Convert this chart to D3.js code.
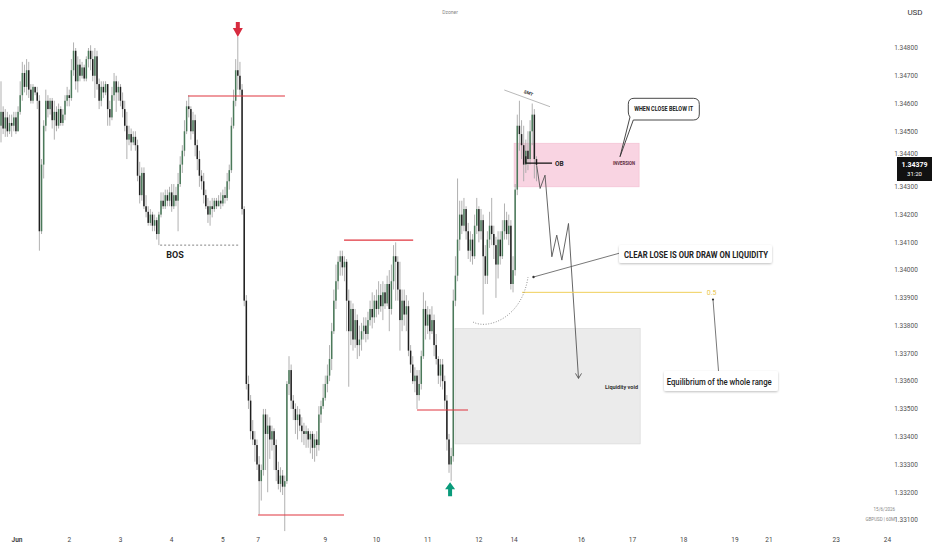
<!DOCTYPE html>
<html><head><meta charset="utf-8">
<script src="https://cdn.jsdelivr.net/npm/d3@7"></script>
<style>body{margin:0;background:#fff}svg{display:block}text{font-family:Roboto,"Noto Sans",sans-serif}</style>
</head><body><svg id="c" width="932" height="550"></svg>
<script>
// GBPUSD 60M candles: [open, high, low, close]
const ohlc = [
[1.3452,1.3468,1.3446,1.3457],[1.3457,1.3459,1.3449,1.3451],[1.3451,1.3458,1.3448,1.3455],[1.3455,1.3457,1.3448,1.3450],[1.3450,1.3456,1.3449,1.3453],[1.3453,1.3456,1.3448,1.3452],
[1.3452,1.3457,1.3450,1.3455],[1.3455,1.3457,1.3449,1.3450],[1.3450,1.3459,1.3450,1.3457],[1.3457,1.3468,1.3456,1.3463],[1.3463,1.3475,1.3461,1.3471],[1.3471,1.3474,1.3464,1.3466],
[1.3466,1.3476,1.3463,1.3472],[1.3472,1.3475,1.3462,1.3465],[1.3465,1.3467,1.3460,1.3461],[1.3461,1.3467,1.3460,1.3466],[1.3466,1.3466,1.3463,1.3464],[1.3464,1.3466,1.3458,1.3461],
[1.3461,1.3463,1.3407,1.3414],[1.3414,1.3440,1.3413,1.3438],[1.3438,1.3454,1.3433,1.3452],[1.3452,1.3465,1.3450,1.3461],[1.3461,1.3463,1.3455,1.3458],[1.3458,1.3462,1.3456,1.3461],
[1.3461,1.3462,1.3451,1.3454],[1.3454,1.3461,1.3447,1.3457],[1.3457,1.3459,1.3450,1.3452],[1.3452,1.3460,1.3451,1.3458],[1.3458,1.3459,1.3452,1.3453],[1.3453,1.3458,1.3452,1.3456],
[1.3456,1.3463,1.3454,1.3461],[1.3461,1.3466,1.3459,1.3463],[1.3463,1.3465,1.3459,1.3462],[1.3462,1.3476,1.3461,1.3472],[1.3472,1.3482,1.3470,1.3479],[1.3479,1.3480,1.3465,1.3468],
[1.3468,1.3477,1.3464,1.3474],[1.3474,1.3476,1.3468,1.3470],[1.3470,1.3475,1.3469,1.3473],[1.3473,1.3474,1.3468,1.3469],[1.3469,1.3477,1.3468,1.3476],[1.3476,1.3480,1.3473,1.3479],
[1.3479,1.3481,1.3472,1.3476],[1.3476,1.3479,1.3468,1.3470],[1.3470,1.3480,1.3462,1.3477],[1.3477,1.3479,1.3465,1.3467],[1.3467,1.3469,1.3458,1.3461],[1.3461,1.3468,1.3459,1.3466],
[1.3466,1.3468,1.3462,1.3464],[1.3464,1.3468,1.3463,1.3467],[1.3467,1.3467,1.3452,1.3458],[1.3458,1.3461,1.3452,1.3455],[1.3455,1.3466,1.3454,1.3463],[1.3463,1.3471,1.3461,1.3468],
[1.3468,1.3470,1.3457,1.3464],[1.3464,1.3468,1.3461,1.3466],[1.3466,1.3467,1.3459,1.3461],[1.3461,1.3464,1.3455,1.3458],[1.3458,1.3461,1.3450,1.3452],[1.3452,1.3457,1.3440,1.3447],
[1.3447,1.3452,1.3445,1.3449],[1.3449,1.3451,1.3443,1.3446],[1.3446,1.3450,1.3445,1.3448],[1.3448,1.3450,1.3443,1.3445],[1.3445,1.3447,1.3432,1.3434],[1.3434,1.3439,1.3424,1.3427],
[1.3427,1.3437,1.3425,1.3435],[1.3435,1.3437,1.3422,1.3423],[1.3423,1.3427,1.3419,1.3421],[1.3421,1.3423,1.3416,1.3417],[1.3417,1.3422,1.3416,1.3420],[1.3420,1.3421,1.3414,1.3416],
[1.3416,1.3420,1.3414,1.3418],[1.3418,1.3419,1.3411,1.3413],[1.3413,1.3421,1.3409,1.3420],[1.3420,1.3428,1.3419,1.3425],[1.3425,1.3428,1.3422,1.3423],[1.3423,1.3429,1.3422,1.3427],
[1.3427,1.3429,1.3423,1.3425],[1.3425,1.3430,1.3423,1.3428],[1.3428,1.3431,1.3421,1.3423],[1.3423,1.3431,1.3422,1.3427],[1.3427,1.3430,1.3423,1.3425],[1.3425,1.3435,1.3414,1.3431],
[1.3431,1.3441,1.3430,1.3438],[1.3438,1.3445,1.3435,1.3443],[1.3443,1.3454,1.3441,1.3450],[1.3450,1.3461,1.3449,1.3459],[1.3459,1.3463,1.3455,1.3458],[1.3458,1.3459,1.3447,1.3450],
[1.3450,1.3457,1.3449,1.3454],[1.3454,1.3456,1.3441,1.3445],[1.3445,1.3447,1.3436,1.3440],[1.3440,1.3443,1.3430,1.3434],[1.3434,1.3436,1.3429,1.3432],[1.3432,1.3435,1.3424,1.3427],
[1.3427,1.3429,1.3422,1.3423],[1.3423,1.3426,1.3417,1.3420],[1.3420,1.3425,1.3416,1.3423],[1.3423,1.3426,1.3419,1.3422],[1.3422,1.3426,1.3421,1.3425],[1.3425,1.3426,1.3422,1.3423],
[1.3423,1.3427,1.3423,1.3425],[1.3425,1.3428,1.3422,1.3424],[1.3424,1.3429,1.3423,1.3427],[1.3427,1.3430,1.3424,1.3426],[1.3426,1.3435,1.3425,1.3432],[1.3432,1.3438,1.3429,1.3436],
[1.3436,1.3455,1.3435,1.3452],[1.3452,1.3465,1.3451,1.3461],[1.3461,1.3476,1.3459,1.3472],[1.3472,1.3484,1.3465,1.3470],[1.3470,1.3475,1.3463,1.3465],[1.3465,1.3467,1.3420,1.3422],
[1.3422,1.3423,1.3387,1.3389],[1.3389,1.3391,1.3357,1.3359],[1.3359,1.3362,1.3350,1.3353],[1.3353,1.3355,1.3339,1.3342],[1.3342,1.3346,1.3337,1.3339],[1.3339,1.3342,1.3331,1.3337],
[1.3337,1.3339,1.3328,1.3330],[1.3330,1.3333,1.3312,1.3324],[1.3324,1.3330,1.3317,1.3328],[1.3328,1.3350,1.3326,1.3348],[1.3348,1.3350,1.3328,1.3341],[1.3341,1.3348,1.3320,1.3344],
[1.3344,1.3347,1.3332,1.3339],[1.3339,1.3344,1.3335,1.3342],[1.3342,1.3343,1.3328,1.3337],[1.3337,1.3339,1.3324,1.3328],[1.3328,1.3331,1.3321,1.3323],[1.3323,1.3329,1.3320,1.3326],
[1.3326,1.3328,1.3319,1.3322],[1.3322,1.3326,1.3306,1.3324],[1.3324,1.3360,1.3323,1.3359],[1.3359,1.3369,1.3355,1.3364],[1.3364,1.3366,1.3350,1.3353],[1.3353,1.3355,1.3346,1.3350],
[1.3350,1.3352,1.3341,1.3346],[1.3346,1.3351,1.3339,1.3348],[1.3348,1.3350,1.3342,1.3344],[1.3344,1.3347,1.3338,1.3342],[1.3342,1.3345,1.3337,1.3341],[1.3341,1.3344,1.3336,1.3342],
[1.3342,1.3343,1.3336,1.3339],[1.3339,1.3342,1.3334,1.3341],[1.3341,1.3342,1.3332,1.3336],[1.3336,1.3341,1.3331,1.3339],[1.3339,1.3342,1.3333,1.3337],[1.3337,1.3351,1.3335,1.3348],
[1.3348,1.3353,1.3345,1.3351],[1.3351,1.3359,1.3350,1.3354],[1.3354,1.3362,1.3353,1.3359],[1.3359,1.3366,1.3356,1.3362],[1.3362,1.3373,1.3360,1.3368],[1.3368,1.3381,1.3364,1.3378],
[1.3378,1.3393,1.3377,1.3389],[1.3389,1.3402,1.3386,1.3396],[1.3396,1.3405,1.3393,1.3403],[1.3403,1.3407,1.3398,1.3405],[1.3405,1.3407,1.3398,1.3401],[1.3401,1.3405,1.3396,1.3403],
[1.3403,1.3404,1.3378,1.3389],[1.3389,1.3393,1.3358,1.3378],[1.3378,1.3389,1.3373,1.3386],[1.3386,1.3388,1.3371,1.3375],[1.3375,1.3386,1.3372,1.3382],[1.3382,1.3384,1.3368,1.3373],
[1.3373,1.3380,1.3369,1.3375],[1.3375,1.3381,1.3371,1.3378],[1.3378,1.3383,1.3375,1.3380],[1.3380,1.3383,1.3374,1.3377],[1.3377,1.3385,1.3375,1.3382],[1.3382,1.3389,1.3380,1.3386],
[1.3386,1.3392,1.3379,1.3383],[1.3383,1.3391,1.3381,1.3389],[1.3389,1.3393,1.3383,1.3386],[1.3386,1.3396,1.3384,1.3391],[1.3391,1.3395,1.3385,1.3387],[1.3387,1.3396,1.3382,1.3392],
[1.3392,1.3395,1.3386,1.3388],[1.3388,1.3398,1.3387,1.3395],[1.3395,1.3400,1.3378,1.3386],[1.3386,1.3402,1.3384,1.3396],[1.3396,1.3409,1.3393,1.3405],[1.3405,1.3410,1.3389,1.3403],
[1.3403,1.3405,1.3389,1.3393],[1.3393,1.3403,1.3371,1.3382],[1.3382,1.3393,1.3378,1.3389],[1.3389,1.3393,1.3380,1.3384],[1.3384,1.3391,1.3378,1.3387],[1.3387,1.3389,1.3369,1.3371],
[1.3371,1.3373,1.3363,1.3366],[1.3366,1.3369,1.3359,1.3360],[1.3360,1.3365,1.3356,1.3362],[1.3362,1.3364,1.3350,1.3355],[1.3355,1.3364,1.3353,1.3359],[1.3359,1.3371,1.3357,1.3369],
[1.3369,1.3392,1.3368,1.3386],[1.3386,1.3389,1.3375,1.3380],[1.3380,1.3387,1.3377,1.3384],[1.3384,1.3386,1.3375,1.3378],[1.3378,1.3387,1.3377,1.3382],[1.3382,1.3384,1.3369,1.3373],
[1.3373,1.3377,1.3366,1.3368],[1.3368,1.3369,1.3359,1.3362],[1.3362,1.3368,1.3358,1.3366],[1.3366,1.3368,1.3357,1.3360],[1.3360,1.3362,1.3350,1.3353],[1.3353,1.3355,1.3335,1.3339],
[1.3339,1.3341,1.3327,1.3330],[1.3330,1.3336,1.3324,1.3333],[1.3333,1.3393,1.3331,1.3389],[1.3389,1.3405,1.3387,1.3398],[1.3398,1.3433,1.3396,1.3411],[1.3411,1.3425,1.3407,1.3420],
[1.3420,1.3425,1.3413,1.3416],[1.3416,1.3426,1.3414,1.3422],[1.3422,1.3423,1.3411,1.3414],[1.3414,1.3417,1.3404,1.3407],[1.3407,1.3414,1.3403,1.3411],[1.3411,1.3413,1.3402,1.3405],
[1.3405,1.3420,1.3404,1.3416],[1.3416,1.3426,1.3413,1.3422],[1.3422,1.3423,1.3410,1.3414],[1.3414,1.3422,1.3411,1.3418],[1.3418,1.3420,1.3384,1.3405],[1.3405,1.3409,1.3395,1.3398],
[1.3398,1.3414,1.3395,1.3411],[1.3411,1.3421,1.3408,1.3416],[1.3416,1.3426,1.3409,1.3413],[1.3413,1.3416,1.3404,1.3409],[1.3409,1.3412,1.3390,1.3402],[1.3402,1.3414,1.3397,1.3411],
[1.3411,1.3414,1.3402,1.3405],[1.3405,1.3418,1.3404,1.3414],[1.3414,1.3424,1.3411,1.3418],[1.3418,1.3421,1.3411,1.3413],[1.3413,1.3420,1.3409,1.3416],[1.3416,1.3418,1.3393,1.3395],
[1.3395,1.3405,1.3392,1.3400],[1.3400,1.3431,1.3398,1.3429],[1.3429,1.3456,1.3427,1.3452],[1.3452,1.3461,1.3443,1.3449],[1.3449,1.3454,1.3440,1.3445],[1.3445,1.3452,1.3432,1.3438],
[1.3438,1.3447,1.3435,1.3443],[1.3443,1.3450,1.3436,1.3440],[1.3440,1.3454,1.3438,1.3450],[1.3450,1.3460,1.3445,1.3456],[1.3456,1.3458,1.3433,1.3440],[1.3440,1.3441,1.3432,1.34379]
];
const priceTicks = [1.331,1.332,1.333,1.334,1.335,1.336,1.337,1.338,1.339,1.340,1.341,1.342,1.343,1.344,1.345,1.346,1.347,1.348];
const dayTickPos = [7.5,32,56,80,104,120.5,152,176,200,224,240.5,272,296,320,344,360,391.5,415.5];
const dayTickLabels = ["Jun","2","3","4","5","7","9","10","11","12","14","16","17","18","19","21","23","24"];
const lastPrice = 1.34379;
const countdown = "31:20";
// horizontal structure levels: [fromIndex, toIndex, price]
const redLevels = [[87.7,133.1,1.34627],[120.5,160.8,1.33118],[160.8,193.2,1.34108],[195,218.9,1.33496]];
const bosLevel = [74.6,112,1.34090];
const obZone = [240.5,299.1,1.34300,1.34457];
const voidZone = [212.8,299.6,1.33374,1.33790];
const eqLevel = [244.2,328.5,1.33920];
const projection = [[251.1,1.34377],[252.7,1.34294],[255.0,1.34342],[258.2,1.34048],[260.5,1.34126],[262.9,1.34036],[266.0,1.34168],[270.7,1.33610]];

const svg = d3.select('#c');
const x = d3.scaleLinear().domain([0,416]).range([1,888.5]);
const y = d3.scaleLinear().domain([1.331,1.348]).range([520,48]);
const bw = 1.5;

const defs = svg.append('defs');
defs.append('filter').attr('id','sh').attr('x','-10%').attr('y','-40%').attr('width','120%').attr('height','180%')
  .append('feDropShadow').attr('dx',0).attr('dy',1).attr('stdDeviation',1.2).attr('flood-color','#000').attr('flood-opacity',0.25);

// zones
svg.append('rect').attr('x',x(obZone[0])).attr('width',x(obZone[1])-x(obZone[0]))
  .attr('y',y(obZone[3])).attr('height',y(obZone[2])-y(obZone[3]))
  .attr('fill','#f9d4e2').attr('stroke','#f2bcd0').attr('stroke-width',0.6);
svg.append('rect').attr('x',x(voidZone[0])).attr('width',x(voidZone[1])-x(voidZone[0]))
  .attr('y',y(voidZone[3])).attr('height',y(voidZone[2])-y(voidZone[3]))
  .attr('fill','#ebebeb').attr('stroke','#d6d6d6').attr('stroke-width',0.6);

// candles
const g = svg.append('g');
g.selectAll('line').data(ohlc).join('line')
  .attr('x1',(d,i)=>x(i)).attr('x2',(d,i)=>x(i))
  .attr('y1',d=>y(d[1])).attr('y2',d=>y(d[2]))
  .attr('stroke','#a8a8a8').attr('stroke-width',0.9);
g.selectAll('rect').data(ohlc).join('rect')
  .attr('x',(d,i)=>x(i)-bw/2).attr('width',bw)
  .attr('y',d=>y(Math.max(d[0],d[3])))
  .attr('height',d=>Math.max(0.8,Math.abs(y(d[0])-y(d[3]))))
  .attr('fill',d=>d[3]>=d[0]?'#4b7a5a':'#1f1f1f');

// red levels
svg.selectAll('line.red').data(redLevels).join('line').attr('class','red')
  .attr('x1',d=>x(d[0])).attr('x2',d=>x(d[1])).attr('y1',d=>y(d[2])).attr('y2',d=>y(d[2]))
  .attr('stroke','#e0343e').attr('stroke-width',1.1);
// BOS
svg.append('line').attr('x1',x(bosLevel[0])).attr('x2',x(bosLevel[1])).attr('y1',y(bosLevel[2])).attr('y2',y(bosLevel[2]))
  .attr('stroke','#666').attr('stroke-width',0.8).attr('stroke-dasharray','2,2');
svg.append('text').attr('x',175).attr('y',y(bosLevel[2])+12.5).attr('text-anchor','middle')
  .attr('font-size',9).attr('font-weight',700).attr('fill','#222').text('BOS');

// red arrow (top) and green arrow (bottom)
const ax = x(111), ay = y(ohlc[111][1]);
svg.append('path').attr('d',`M${ax-2},${ay-15}h4v6h3l-5,9l-5,-9h3z`).attr('fill','#d72b3f');
const gx = x(210.5), gy = y(ohlc[211][2])+1;
svg.append('path').attr('d',`M${gx},${gy}l5,7h-3v7h-4v-7h-3z`).attr('fill','#0a9b7b');

// SMT
svg.append('line').attr('x1',504.3).attr('y1',90).attr('x2',550).attr('y2',106.7).attr('stroke','#8a8a8a').attr('stroke-width',0.6);
svg.append('text').attr('transform','translate(528,94.5) rotate(20)').attr('text-anchor','middle')
  .attr('font-size',4.5).attr('font-weight',700).attr('fill','#333').text('SMT');

// OB
const obY = y(1.34385);
svg.append('path').attr('d',`M${x(246)},${obY-7}V${obY}H${x(258.3)}`).attr('fill','none').attr('stroke','#111').attr('stroke-width',1.2);
svg.append('text').attr('x',555).attr('y',obY+2.5).attr('font-size',6.5).attr('font-weight',700).attr('fill','#222').text('OB');
svg.append('text').attr('x',624).attr('y',obY+2).attr('text-anchor','middle').attr('font-size',5).attr('font-weight',700)
  .attr('fill','#5a2a3a').attr('textLength',22).attr('lengthAdjust','spacingAndGlyphs').text('INVERSION');

// callout WHEN CLOSE BELOW IT
svg.append('path').attr('d','M634,98.3 H693.3 Q699.3,98.3 699.3,104.3 V114 Q699.3,120 693.3,120 H633.3 L620,156.7 L630,117 Q628.3,115 628.3,112 V104.3 Q628.3,98.3 634,98.3 Z')
  .attr('fill','#fff').attr('stroke','#333').attr('stroke-width',0.9);
svg.append('text').attr('x',663.7).attr('y',111).attr('text-anchor','middle').attr('font-size',6.5).attr('font-weight',700)
  .attr('fill','#222').attr('textLength',59).attr('lengthAdjust','spacingAndGlyphs').text('WHEN CLOSE BELOW IT');

// projection path
svg.append('path').attr('d',d3.line().x(d=>x(d[0])).y(d=>y(d[1]))(projection))
  .attr('fill','none').attr('stroke','#555').attr('stroke-width',0.9);
const pe = projection[projection.length-1];
svg.append('path').attr('d',`M${x(pe[0])-3},${y(pe[1])-5}L${x(pe[0])},${y(pe[1])}L${x(pe[0])+3},${y(pe[1])-5}`)
  .attr('fill','none').attr('stroke','#555').attr('stroke-width',0.9);

// equilibrium line
svg.append('line').attr('x1',x(eqLevel[0])).attr('x2',x(eqLevel[1])).attr('y1',y(eqLevel[2])).attr('y2',y(eqLevel[2]))
  .attr('stroke','#f0cf5a').attr('stroke-width',1);
svg.append('text').attr('x',x(eqLevel[1])+5).attr('y',y(eqLevel[2])+2.5).attr('font-size',7).attr('fill','#e9c54a').text('0.5');

// dotted curve
svg.append('path').attr('d','M473,322 C488,330 522,318 528,277').attr('fill','none').attr('stroke','#777')
  .attr('stroke-width',0.8).attr('stroke-dasharray','1,1.6');

// CLEAR LOSE label + pointer
svg.append('line').attr('x1',533.5).attr('y1',277).attr('x2',620).attr('y2',253).attr('stroke','#555').attr('stroke-width',0.8);
svg.append('circle').attr('cx',533.5).attr('cy',277).attr('r',1.2).attr('fill','#333');
svg.append('rect').attr('x',619).attr('y',245).attr('width',153).attr('height',18).attr('rx',2).attr('fill','#fff').attr('filter','url(#sh)');
svg.append('text').attr('x',624).attr('y',257.5).attr('font-size',9.5).attr('font-weight',700).attr('fill','#222')
  .attr('textLength',144).attr('lengthAdjust','spacingAndGlyphs').text('CLEAR LOSE IS OUR DRAW ON LIQUIDITY');

// Liquidity void
svg.append('text').attr('x',638).attr('y',388.5).attr('text-anchor','end').attr('font-size',5.5).attr('font-weight',700)
  .attr('fill','#333').attr('textLength',33).attr('lengthAdjust','spacingAndGlyphs').text('Liquidity void');

// Equilibrium label
svg.append('line').attr('x1',713).attr('y1',299.5).attr('x2',718.5).attr('y2',371).attr('stroke','#555').attr('stroke-width',0.8);
svg.append('circle').attr('cx',713).attr('cy',299.5).attr('r',1.1).attr('fill','#333');
svg.append('rect').attr('x',664).attr('y',371).attr('width',114).attr('height',20).attr('rx',2).attr('fill','#fff').attr('filter','url(#sh)');
svg.append('text').attr('x',666.7).attr('y',384.5).attr('font-size',9.5).attr('font-weight',500).attr('fill','#222')
  .attr('textLength',105).attr('lengthAdjust','spacingAndGlyphs').text('Equilibrium of the whole range');

// right axis: the tick that sits under the last-price label is nudged up to peek out just above it
const boxTop = 157;
svg.selectAll('text.py').data(priceTicks).join('text').attr('class','py')
  .attr('x',906).attr('y',d=>Math.abs(y(d)-y(lastPrice))<12?boxTop-1.5:y(d)+2.3)
  .attr('text-anchor','middle').attr('font-size',6.5).attr('fill','#555')
  .text(d=>d.toFixed(5));
svg.append('rect').attr('x',897).attr('y',boxTop).attr('width',35).attr('height',24).attr('fill','#111');
svg.append('text').attr('x',914.5).attr('y',y(lastPrice)+2.5).attr('text-anchor','middle').attr('font-size',7).attr('font-weight',700).attr('fill','#fff').text(lastPrice.toFixed(5));
svg.append('text').attr('x',914.5).attr('y',y(lastPrice)+11.5).attr('text-anchor','middle').attr('font-size',6).attr('fill','#fff').text(countdown);
svg.append('text').attr('x',915).attr('y',15).attr('text-anchor','middle').attr('font-size',8).attr('fill','#333').text('USD');

// bottom axis
svg.selectAll('text.dx').data(dayTickPos).join('text').attr('class','dx')
  .attr('x',d=>x(d)).attr('y',542).attr('text-anchor','middle').attr('font-size',6.5)
  .attr('font-weight',(d,i)=>i===0?700:400).attr('fill','#444').text((d,i)=>dayTickLabels[i]);

// misc texts
svg.append('text').attr('x',450).attr('y',14).attr('text-anchor','middle').attr('font-size',5).attr('fill','#888').text('Dzoner');
svg.append('text').attr('x',895).attr('y',511).attr('text-anchor','end').attr('font-size',4.5).attr('fill','#888').text('15/6/2026');
svg.append('text').attr('x',895).attr('y',520.5).attr('text-anchor','end').attr('font-size',4.5).attr('fill','#888').text('GBPUSD | 60M');
</script></body></html>
